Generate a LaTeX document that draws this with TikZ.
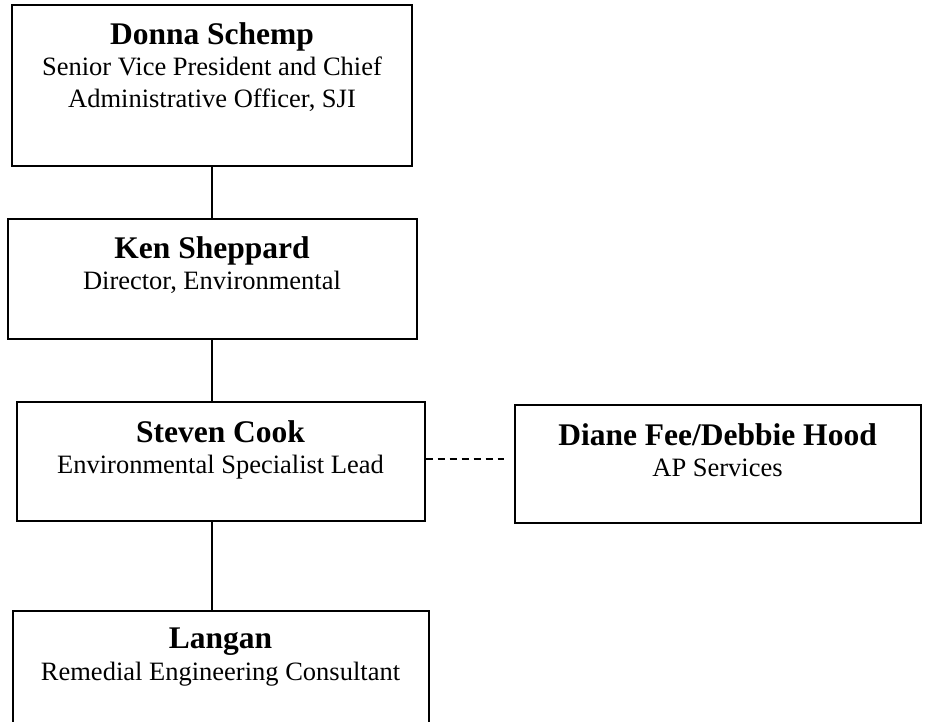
\documentclass[tikz,border=0pt]{standalone}
\usepackage{fontspec}
\setmainfont{Liberation Serif}
\usepackage{tikz}
\usetikzlibrary{positioning, calc}

\begin{document}
\begin{tikzpicture}[x=1pt, y=-1pt, every node/.style={align=center}]
\tikzset{
  block/.style={
    rectangle, draw=black, line width=2pt, inner sep=0pt
  },
  blocktext/.style={
    inner sep=0pt, font=\fontsize{26.5}{31.5}\selectfont
  },
  link/.style={line width=1.6pt},
  dashlink/.style={line width=2pt, dash pattern=on 7pt off 5pt}
}
\newcommand{\person}[1]{{\fontsize{31.5}{32}\selectfont\bfseries #1}}

\useasboundingbox (0,0) rectangle (925,721);

\node (donna) [block, minimum width=400pt, minimum height=161pt] at (212,85.5) {};
\node (donnatext) [blocktext, below=18pt of donna.north] {\person{Donna Schemp} \\ Senior Vice President and Chief \\ Administrative Officer, SJI};

\node (ken) [block, minimum width=409pt, minimum height=120pt, below=51pt of donna] {};
\node (kentext) [blocktext, below=18pt of ken.north] {\person{Ken Sheppard} \\ Director, Environmental};

\node (steven) [block, minimum width=408pt, minimum height=119pt, below=61pt of ken, xshift=8.5pt] {};
\node (steventext) [blocktext, below=19pt of steven.north] {\person{Steven Cook} \\ Environmental Specialist Lead};

\node (diane) [block, minimum width=406pt, minimum height=118pt, right=88pt of steven, yshift=-2.5pt] {};
\node (dianetext) [blocktext, below=19pt of diane.north] {\person{Diane Fee/Debbie Hood} \\ AP Services};

\node (langan) [block, minimum width=416pt, minimum height=130pt, below=88pt of steven] {};
\node (langantext) [blocktext, below=18pt of langan.north] {\person{Langan} \\ Remedial Engineering Consultant};

\draw [link] (donna) -- (ken);
\draw [link] (ken.south) -- (ken.south |- steven.north);
\draw [link] (ken.south |- steven.south) -- (ken.south |- langan.north);
\draw [dashlink] ([yshift=2.5pt]steven.east) -- ([xshift=-10pt, yshift=2.5pt]diane.west |- steven.east);
\end{tikzpicture}
\end{document}
